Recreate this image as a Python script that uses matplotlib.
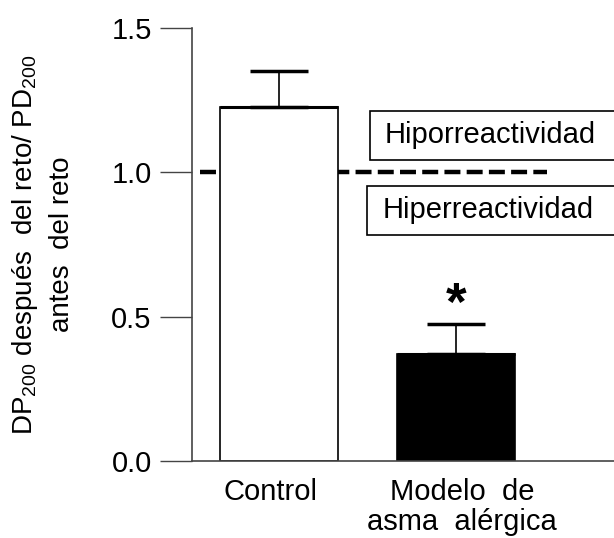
import matplotlib
matplotlib.use("Agg")
import matplotlib.pyplot as plt
from matplotlib.patches import Rectangle
from matplotlib.transforms import ScaledTranslation

plt.rcParams["font.family"] = ["Liberation Sans", "DejaVu Sans"]
plt.rcParams["mathtext.fontset"] = "custom"
plt.rcParams["mathtext.rm"] = "Liberation Sans"
plt.rcParams["lines.scale_dashes"] = False

categories = ["Control", "Modelo  de\nasma  alérgica"]
means = [1.227, 0.371]
sem = [0.125, 0.103]
bar_colors = ["white", "black"]
yticks = [0.0, 0.5, 1.0, 1.5]
ytick_labels = ["0.0", "0.5", "1.0", "1.5"]
threshold = 1.0
zone_labels = ["Hiporreactividad", "Hiperreactividad"]

fig = plt.figure(figsize=(6.14, 5.38), dpi=100)
ax = fig.add_axes([0.3127, 0.1431, 0.6873, 0.805])

x = [0, 1]

# reference line behind the bars
ax.hlines(threshold, -0.446, 1.514, colors="black", linewidth=3.2,
          linestyles=(0, (11.5, 4.5)), zorder=1)

ax.bar(x, means, width=0.667, color=bar_colors, edgecolor="black",
       linewidth=1.2, zorder=2)
# thicker top edge on the bars
for xi, m in zip(x, means):
    ax.hlines(m, xi - 0.3335, xi + 0.3335, colors="black", linewidth=2.2, zorder=3)

ax.errorbar(x, means, yerr=[[0, 0], sem], fmt="none", ecolor="black",
            elinewidth=1.2, capsize=21, capthick=2.5, zorder=3)

ax.text(x[1], means[1] + sem[1] - 0.024, "*", ha="center", va="bottom",
        fontsize=38, fontweight="bold")

# zone boxes
box_specs = [(1.043, 1.212), (0.783, 0.954)]
box_left = [0.514, 0.50]
for label, (y0, y1), bx in zip(zone_labels, box_specs, box_left):
    ax.add_patch(Rectangle((bx, y0), 2.0, y1 - y0, facecolor="white",
                           edgecolor="black", linewidth=1.2, clip_on=False,
                           zorder=4))
    ax.text(bx + 0.085, (y0 + y1) / 2, label, ha="left", va="center",
            fontsize=21, zorder=5, clip_on=False)

ax.set_xlim(-0.4915, 1.893)
ax.set_ylim(0, 1.5)
ax.set_yticks(yticks)
ax.set_yticklabels(ytick_labels, fontsize=21)
ax.set_xticks(x)
ax.set_xticklabels(categories, fontsize=21, linespacing=1.1)
ax.tick_params(axis="x", length=0, pad=12)
ax.tick_params(axis="y", length=23, width=1.0, color="#444444", pad=6)
for lab, dx in zip(ax.get_xticklabels(), [-0.08, 0.06]):
    lab.set_transform(lab.get_transform() +
                      ScaledTranslation(dx, 0, fig.dpi_scale_trans))

for side in ["top", "right"]:
    ax.spines[side].set_visible(False)
for side in ["left", "bottom"]:
    ax.spines[side].set_color("#444444")
    ax.spines[side].set_linewidth(1.2)

ax.set_ylabel("DP$\\mathrm{_{200}}$ después  del reto/ PD$\\mathrm{_{200}}$\nantes  del reto",
              fontsize=20, labelpad=26, linespacing=1.45)

fig.savefig("out.png", dpi=100)
